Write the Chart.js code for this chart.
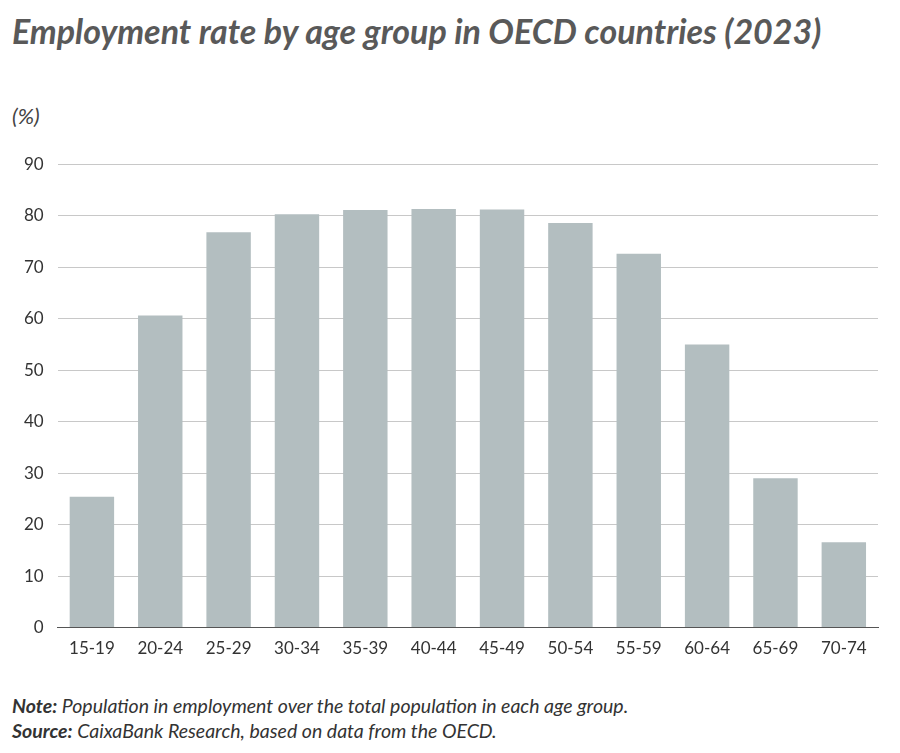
<!DOCTYPE html>
<html>
<head>
<meta charset="utf-8">
<script src="https://cdn.jsdelivr.net/npm/chart.js@4"></script>
<style>
  body { margin: 0; background: #fff; font-family: Lato, "Noto Sans", sans-serif; color: #333; }
  #wrap { position: relative; width: 900px; height: 753px; }
  h1 { position: absolute; left: 12px; top: 10px; margin: 0; font-size: 34px; line-height: 42px;
       font-style: italic; font-weight: 700; color: #595959; width: 830px; }
  #unit { position: absolute; left: 12px; top: 102px; font-size: 22px; font-style: italic; color: #444; }
  #box { position: absolute; left: 0; top: 140px; width: 900px; height: 522px; }
  .note { position: absolute; left: 12px; font-size: 19.5px; font-style: italic; color: #333; }
</style>
</head>
<body>
<div id="wrap">
  <h1>Employment rate by age group in OECD countries (2023)</h1>
  <div id="unit">(%)</div>
  <div id="box"><canvas id="chart"></canvas></div>
  <div class="note" style="top:694px"><b>Note:</b> Population in employment over the total population in each age group.</div>
  <div class="note" style="top:719px"><b>Source:</b> CaixaBank Research, based on data from the OECD.</div>
</div>
<script>
const ageGroups = ['15-19', '20-24', '25-29', '30-34', '35-39', '40-44', '45-49', '50-54', '55-59', '60-64', '65-69', '70-74'];
const employmentRate = [25.4, 60.6, 76.8, 80.3, 81.1, 81.3, 81.2, 78.6, 72.6, 55.0, 29.0, 16.6];

new Chart(document.getElementById('chart'), {
  type: 'bar',
  data: {
    labels: ageGroups,
    datasets: [{
      data: employmentRate,
      backgroundColor: '#b3bec0',
      categoryPercentage: 1,
      barPercentage: 0.65
    }]
  },
  options: {
    responsive: true,
    maintainAspectRatio: false,
    animation: false,
    layout: { padding: { left: 10, right: 22, top: 12, bottom: 0 } },
    plugins: { legend: { display: false }, tooltip: { enabled: false } },
    scales: {
      x: {
        grid: { display: false },
        border: { color: '#555' },
        ticks: { color: '#333', font: { size: 17, family: 'Lato' } }
      },
      y: {
        min: 0, max: 90,
        ticks: { stepSize: 10, color: '#333', padding: 14, font: { size: 17, family: 'Lato' } },
        grid: { color: '#c8c8c8', drawTicks: false },
        border: { display: false }
      }
    }
  }
});
</script>
</body>
</html>
